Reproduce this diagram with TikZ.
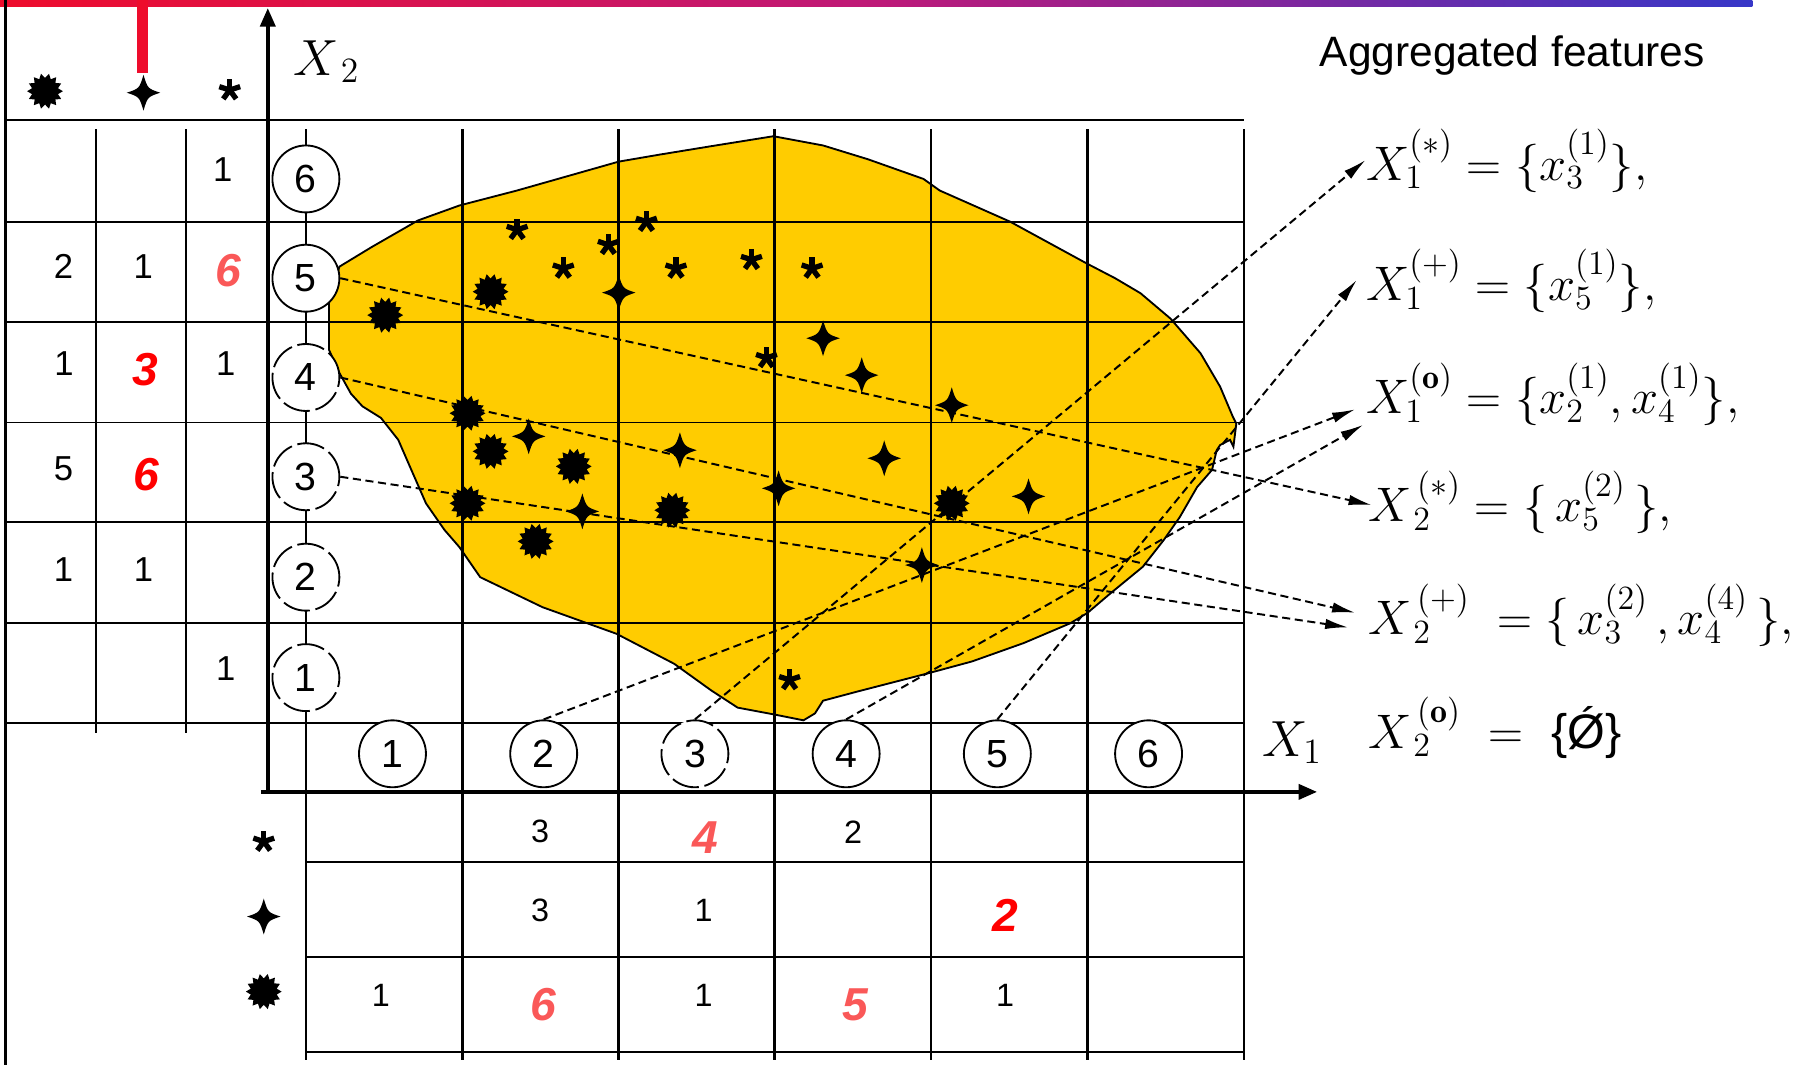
\documentclass[tikz,border=0pt]{standalone}
\usepackage{fix-cm}
\usepackage{fontspec}
\newfontfamily\arial{Liberation Sans}
\usetikzlibrary{arrows.meta}
\definecolor{barred}{RGB}{238,12,44}
\definecolor{barmid}{RGB}{190,25,120}
\definecolor{barblue}{RGB}{55,55,200}
\definecolor{blobyellow}{RGB}{255,204,0}
\definecolor{salmon}{RGB}{250,88,88}
\definecolor{hotred}{RGB}{255,0,0}
\tikzset{
  gridh/.style={line width=0.8pt},
  gridv/.style={line width=1.1pt},
  tcol/.style={line width=0.7pt},
  axisline/.style={line width=1.6pt,-{Triangle[length=8pt,width=6.5pt]}},
  circ/.style={circle,draw,line width=0.8pt,fill=white,minimum size=29pt,inner sep=0pt,font=\arial\fontsize{17}{17}\selectfont},
  dcirc/.style={circ,dash pattern=on 12pt off 2.5pt},
  num/.style={font=\arial\fontsize{15}{15}\selectfont,inner sep=0pt},
  bnum/.style={font=\arial\fontsize{14}{14}\selectfont,inner sep=0pt},
  rednum/.style={font=\arial\bfseries\itshape\fontsize{20}{20}\selectfont,inner sep=0pt,text=hotred},
  salnum/.style={rednum,text=salmon},
  formula/.style={anchor=base west,inner sep=0pt,font=\fontsize{21}{25}\selectfont},
  conn/.style={line width=0.85pt,dash pattern=on 3.5pt off 2pt,-{Latex[length=10pt,width=4.5pt]}},
  burstmark/.pic={\fill (0:15.5) \foreach \k in {1,...,27}{ -- (\k*360/28:{ifthenelse(isodd(\k),11.5,15.5)}) } -- cycle;},
  fourstar/.pic={\fill (0,-15.5) .. controls (3.6,-3.6) .. (14.5,0) .. controls (3.6,3.6) .. (0,15.5) .. controls (-3.6,3.6) .. (-14.5,0) .. controls (-3.6,-3.6) .. (0,-15.5) -- cycle;},
  astmark/.pic={\foreach \a in {-90,-18,54,126,198}{\draw[line width=2.3pt] (0,0) -- (\a:9.5);}}
}
\begin{document}
\begin{tikzpicture}[x=0.5pt,y=-0.5pt]
\useasboundingbox (0,0) rectangle (1568,923);
% top bar and red tick
\shade[left color=barred,right color=barblue,middle color=barmid] (0,0) rectangle (1518,5.5);
\fill[barred] (119,0) rectangle (128,63);
% blob
\filldraw[fill=blobyellow,draw=black,line width=0.8pt] (285,303) -- (285,262) -- (294,231) -- (322,214) -- (362,191) -- (398,178) -- (448,165) -- (536,140) -- (571,134) -- (620,126) -- (670,118) -- (713,126) -- (752,138) -- (800,155) -- (814,165) -- (875,192) -- (941,228) -- (966,241) -- (988,254) -- (1014,276) -- (1040,306) -- (1057,335) -- (1068,361) -- (1071,367) -- (1068.5,387) -- (1065.6,381) -- (1057,385.5) -- (1054,390) -- (1050,407) -- (1037,422) -- (1022,448) -- (1008,468) -- (990,491) -- (962,514) -- (942,531) -- (927,540) -- (887,557) -- (842,573) -- (805,583) -- (743,599) -- (713,607) -- (706,618) -- (696,624) -- (671,619) -- (639,613) -- (616,598) -- (584,575) -- (534,549) -- (470,526) -- (416,500) -- (398,474) -- (385,459) -- (369,436) -- (355,404) -- (345,381) -- (330,362) -- (314,352) -- (304,341) -- (294,323) -- cycle;
% grid
\draw[line width=1.2pt] (5,0) -- (5,923);
\foreach \y in {104,192,279,366,452,540,626} \draw[gridh] (5,\y) -- (1078,\y);
\foreach \y in {747,829,911} \draw[gridh] (265,\y) -- (1077.5,\y);
\foreach \x in {83,161} \draw[tcol] (\x,112) -- (\x,635);
\foreach \x in {265,400.5,536,671,806.5,942,1077.5} \draw[gridv] (\x,112) -- (\x,918);
% axes
\draw[axisline] (232,684) -- (232,7);
\draw[axisline] (226,686) -- (1141,686);
\node[anchor=base west,inner sep=0pt,font=\fontsize{22}{22}\selectfont] (lx2) at (254,65) {$X_{\,2}$};
\node[anchor=base west,inner sep=0pt,font=\fontsize{22}{22}\selectfont] (lx1) at (1093,655) {$X_{1}$};
% formulas
\node[anchor=base west,inner sep=0pt,font=\arial\fontsize{18.4}{20}\selectfont] (agg) at (1143,58) {Aggregated features};
\node[formula] (f1star) at (1183,156) {$X_1^{(*)} = \{x_3^{(1)}\},$};
\node[formula] (f1plus) at (1183,260) {$X_1^{(+)} = \{x_5^{(1)}\},$};
\node[formula] (f1o) at (1183,358) {$X_1^{(\mathbf{o})} = \{x_2^{(1)}, x_4^{(1)}\},$};
\node[formula] (f2star) at (1185,452) {$X_{\,2}^{\,(*)} = \{\,x_5^{(2)}\,\},$};
\node[formula] (f2plus) at (1185,550) {$X_{\,2}^{\,(+)} \;= \{\,x_3^{(2)}\,, x_4^{(4)}\,\},$};
\node[formula] (f2o) at (1185,648) {$X_{\,2}^{\,(\mathbf{o})} \;=\;$ {\arial\{Ǿ\}}};
% circles on X2
\node[circ] (cy6) at (265,155) {6};
\node[circ] (cy5) at (265,241) {5};
\node[dcirc] (cy4) at (265,327) {4};
\node[dcirc] (cy3) at (265,413) {3};
\node[dcirc] (cy2) at (265,500) {2};
\node[dcirc] (cy1) at (265,587) {1};
% circles on X1
\node[circ] (cx1) at (340,653) {1};
\node[circ] (cx2) at (471,653) {2};
\node[dcirc] (cx3) at (602,653) {3};
\node[circ] (cx4) at (733,653) {4};
\node[circ] (cx5) at (864,653) {5};
\node[circ] (cx6) at (995,653) {6};
% connectors
\draw[conn] (cy5.east) -- ([xshift=1.65pt,yshift=7.25pt]f2star.base west);
\draw[conn] (cy4.east) -- ([xshift=-5.5pt,yshift=9.6pt]f2plus.base west);
\draw[conn] (cy3.east) -- ([xshift=-8.5pt,yshift=3.25pt]f2plus.base west);
\draw[conn] (cx3.north) -- ([xshift=0pt,yshift=8.7pt]f1star.base west);
\draw[conn] (cx5.north) -- ([xshift=-3.85pt,yshift=8.7pt]f1plus.base west);
\draw[conn] (cx2.north) -- ([xshift=-4.5pt,yshift=1.7pt]f1o.base west);
\draw[conn] (cx4.north) -- ([xshift=-1pt,yshift=-5pt]f1o.base west);
% symbols in blob
\foreach \p in {(448,199),(488,232.5),(527,212),(560,192),(585.6,232.5),(651,225),(703.5,232.5),(664,310),(684,589)} \pic at \p {astmark};
\foreach \p in {(333.7,273),(425,252.7),(405,358),(425,391),(497,404),(405,436),(464,469),(582.4,442),(824.5,436)} \pic at \p {burstmark};
\foreach \p in {(536,253.5),(713,293),(746.5,325),(824.5,351),(458,378),(589,390),(766,397),(674.5,423),(504.5,443),(891,430),(798.6,489.5)} \pic at \p {fourstar};
% header and row-label symbols
\pic at (39,79) {burstmark};
\pic at (124.3,80.3) {fourstar};
\pic at (199,78) {astmark};
\pic at (228.5,729) {astmark};
\pic at (228.5,794) {fourstar};
\pic at (228.5,859) {burstmark};
% left table numbers
\node[num] (l61) at (193,147) {1};
\node[num] (l51) at (55,231) {2};
\node[num] (l52) at (124,231) {1};
\node[salnum] (l53) at (198,234.5) {6};
\node[num] (l41) at (55.5,314.7) {1};
\node[rednum] (l42) at (126,320) {3};
\node[num] (l43) at (195.6,314.7) {1};
\node[num] (l31) at (55,405.7) {5};
\node[rednum] (l32) at (127,411.5) {6};
\node[num] (l21) at (55,493.8) {1};
\node[num] (l22) at (124.3,493.8) {1};
\node[num] (l11) at (195.6,579) {1};
% bottom table numbers
\node[bnum] (b12) at (467.8,720.5) {3};
\node[salnum] (b13) at (611.3,726) {4};
\node[bnum] (b14) at (739,720.5) {2};
\node[bnum] (b22) at (467.8,788.4) {3};
\node[bnum] (b23) at (609.5,788.4) {1};
\node[rednum] (b25) at (870.7,792.7) {2};
\node[bnum] (b31) at (330,862) {1};
\node[salnum] (b32) at (471,870.7) {6};
\node[bnum] (b33) at (609.5,862) {1};
\node[salnum] (b34) at (741.3,870.7) {5};
\node[bnum] (b35) at (870.7,862) {1};
\end{tikzpicture}
\end{document}
